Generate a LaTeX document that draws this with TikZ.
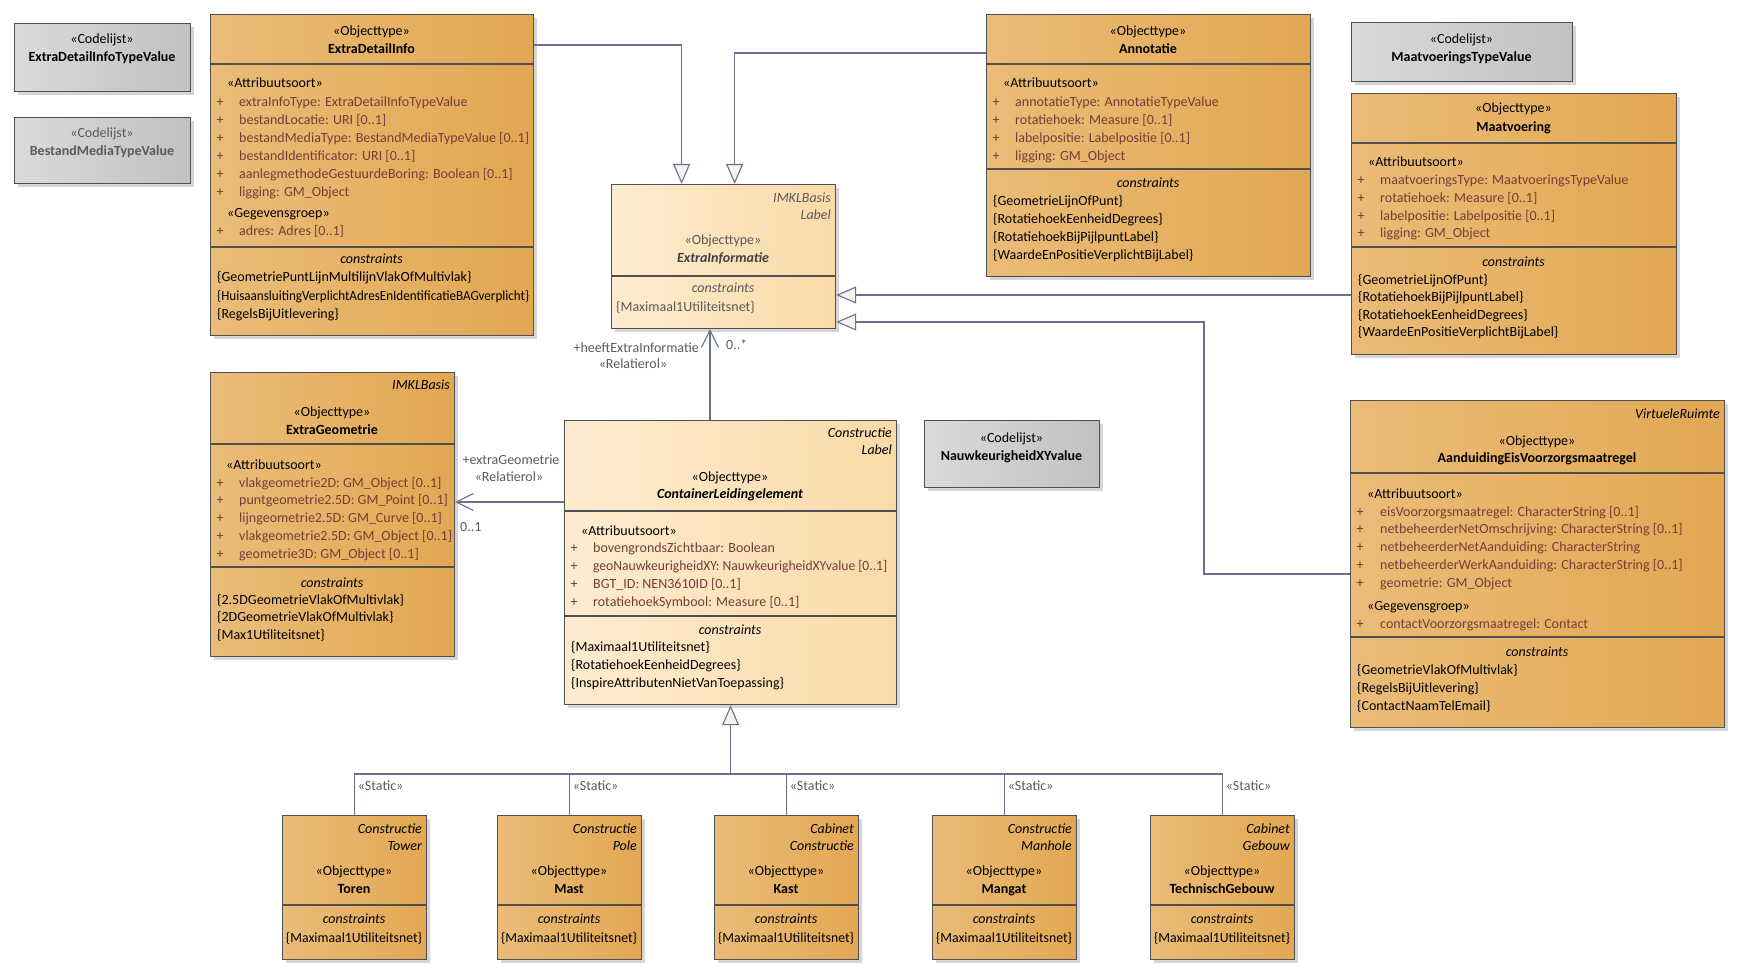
\documentclass[tikz,border=0pt]{standalone}
\usepackage{fontspec}
\setmainfont{Carlito}
\usepackage{tikz}
\usetikzlibrary{arrows.meta, positioning, calc, shadows}
\definecolor{orangeL}  {RGB}{234, 188, 120}
\definecolor{orangeR}  {RGB}{226, 167,  82}
\definecolor{lightL}   {RGB}{253, 236, 208}
\definecolor{lightR}   {RGB}{251, 218, 168}
\definecolor{grayL}    {RGB}{218, 218, 218}
\definecolor{grayR}    {RGB}{193, 193, 193}
\definecolor{edgegray} {RGB}{ 80,  80,  80}
\definecolor{linkblue} {RGB}{104, 114, 144}
\definecolor{genfill}  {RGB}{250, 240, 238}
\definecolor{attrbrown}{RGB}{115,  62,  56}
\definecolor{plusbrown}{RGB}{ 90,  66,  58}
\definecolor{labelgray}{RGB}{ 90,  90,  90}
\newcommand{\fs}{\fontsize{14}{16}\selectfont}

\begin{document}
\begin{tikzpicture}[x=1pt, y=-1pt, font=\fs,
	cls/.style={draw=edgegray, line width=1.2pt, anchor=north west, inner sep=0pt,
		drop shadow={shadow xshift=3pt, shadow yshift=-3pt, fill=black!16, opacity=1}},
	orangebox/.style={cls, left color=orangeL, right color=orangeR},
	lightbox/.style={cls, left color=lightL, right color=lightR},
	graybox/.style={cls, left color=grayL, right color=grayR},
	divider/.style={draw=edgegray, line width=1.2pt},
	txt/.style={anchor=base, inner sep=0pt},
	clsname/.style={txt, font=\fs\bfseries},
	ital/.style={txt, font=\fs\itshape},
	tag/.style={anchor=base east, inner sep=0pt, font=\fs\itshape},
	stereo/.style={anchor=base west, inner sep=0pt},
	cons/.style={anchor=base west, inner sep=0pt},
	attr/.style={anchor=base west, inner sep=0pt, text=attrbrown},
	plus/.style={txt, text=plusbrown},
	link/.style={draw=linkblue, line width=1.1pt},
	gen/.style={link, -{Triangle[length=20pt, width=17pt, fill=genfill]}},
	assoc/.style={link, -{Straight Barb[length=17pt, width=17pt, line width=1.1pt]}},
	linklabel/.style={txt, text=labelgray}]
\useasboundingbox (0,0) rectangle (1742,976);

% codelijsten
\node[graybox, minimum width=176pt, minimum height=68pt] (codeExtra) at (14,23) {};
\node[txt] at (102,44) {«Codelijst»};
\node[clsname] at (102,62) {ExtraDetailInfoTypeValue};
\node[graybox, minimum width=176pt, minimum height=66pt] (codeBestand) at (14,117) {};
\node[txt, text=labelgray] at (102,138) {«Codelijst»};
\node[clsname, text=labelgray] at (102,156) {BestandMediaTypeValue};
\node[graybox, minimum width=221pt, minimum height=59pt] (codeMaat) at (1351,22) {};
\node[txt] at (1461.5,44) {«Codelijst»};
\node[clsname] at (1461.5,62) {MaatvoeringsTypeValue};
\node[graybox, minimum width=175pt, minimum height=67pt] (codeNauwk) at (924,420) {};
\node[txt] at (1011.5,442) {«Codelijst»};
\node[clsname] at (1011.5,460) {NauwkeurigheidXYvalue};

% ExtraDetailInfo
\node[orangebox, minimum width=323pt, minimum height=321pt] (extradetail) at (210,14) {};
\node[txt] at (371.5,36) {«Objecttype»};
\node[clsname] at (371.5,54) {ExtraDetailInfo};
\draw[divider] (210,64) -- (533,64);
\node[stereo] at (227,88) {«Attribuutsoort»};
\foreach \entry [count=\i from 0] in {{extraInfoType: ExtraDetailInfoTypeValue},
		{bestandLocatie: URI [0..1]}, {bestandMediaType: BestandMediaTypeValue [0..1]},
		{bestandIdentificator: URI [0..1]}, {aanlegmethodeGestuurdeBoring: Boolean [0..1]},
		{ligging: GM\_Object}} {
	\node[plus] at (220,{107+\i*17.9}) {+};
	\node[attr] at (239,{107+\i*17.9}) {\entry};
}
\node[stereo] at (227,218) {«Gegevensgroep»};
\node[plus] at (220,236) {+};
\node[attr] at (239,236) {adres: Adres [0..1]};
\draw[divider] (210,247) -- (533,247);
\node[ital] at (371.5,264) {constraints};
\node[cons] at (217,282) {\{GeometriePuntLijnMultilijnVlakOfMultivlak\}};
\node[cons] at (217,300) {\resizebox{312pt}{\height}{\{HuisaansluitingVerplichtAdresEnIdentificatieBAGverplicht\}}};
\node[cons] at (217,318) {\{RegelsBijUitlevering\}};

% ExtraInformatie
\node[lightbox, minimum width=224pt, minimum height=144pt] (extrainfo) at (611,184) {};
\node[tag, text=labelgray] at (831,203) {IMKLBasis};
\node[tag, text=labelgray] at (831,220) {Label};
\node[txt, text=labelgray] at (723,245) {«Objecttype»};
\node[clsname, font=\fs\bfseries\itshape, text=black!75] at (723,263) {ExtraInformatie};
\draw[divider] (611,276) -- (835,276);
\node[ital, text=labelgray] at (723,293) {constraints};
\node[cons, text=labelgray] at (616,311) {\{Maximaal1Utiliteitsnet\}};

% Annotatie
\node[orangebox, minimum width=324pt, minimum height=262pt] (annotatie) at (986,14) {};
\node[txt] at (1148,36) {«Objecttype»};
\node[clsname] at (1148,54) {Annotatie};
\draw[divider] (986,64) -- (1310,64);
\node[stereo] at (1003,88) {«Attribuutsoort»};
\foreach \entry [count=\i from 0] in {{annotatieType: AnnotatieTypeValue},
		{rotatiehoek: Measure [0..1]}, {labelpositie: Labelpositie [0..1]}, {ligging: GM\_Object}} {
	\node[plus] at (996,{107+\i*17.9}) {+};
	\node[attr] at (1015,{107+\i*17.9}) {\entry};
}
\draw[divider] (986,169) -- (1310,169);
\node[ital] at (1148,188) {constraints};
\foreach \entry [count=\i from 0] in {{GeometrieLijnOfPunt}, {RotatiehoekEenheidDegrees},
		{RotatiehoekBijPijlpuntLabel}, {WaardeEnPositieVerplichtBijLabel}}
	\node[cons] at (993,{206+\i*17.9}) {\{\entry\}};

% Maatvoering
\node[orangebox, minimum width=325pt, minimum height=261pt] (maatvoering) at (1351,93) {};
\node[txt] at (1513.5,113) {«Objecttype»};
\node[clsname] at (1513.5,132) {Maatvoering};
\draw[divider] (1351,143) -- (1676,143);
\node[stereo] at (1368,167) {«Attribuutsoort»};
\foreach \entry [count=\i from 0] in {{maatvoeringsType: MaatvoeringsTypeValue},
		{rotatiehoek: Measure [0..1]}, {labelpositie: Labelpositie [0..1]}, {ligging: GM\_Object}} {
	\node[plus] at (1361,{185+\i*17.6}) {+};
	\node[attr] at (1380,{185+\i*17.6}) {\entry};
}
\draw[divider] (1351,247) -- (1676,247);
\node[ital] at (1513.5,267) {constraints};
\foreach \entry [count=\i from 0] in {{GeometrieLijnOfPunt}, {RotatiehoekBijPijlpuntLabel},
		{RotatiehoekEenheidDegrees}, {WaardeEnPositieVerplichtBijLabel}}
	\node[cons] at (1358,{284+\i*17.6}) {\{\entry\}};

% ExtraGeometrie
\node[orangebox, minimum width=244pt, minimum height=284pt] (extrageom) at (210,372) {};
\node[tag] at (450,389) {IMKLBasis};
\node[txt] at (332,416) {«Objecttype»};
\node[clsname] at (332,434) {ExtraGeometrie};
\draw[divider] (210,444) -- (454,444);
\node[stereo] at (226,469) {«Attribuutsoort»};
\foreach \entry [count=\i from 0] in {{vlakgeometrie2D: GM\_Object [0..1]},
		{puntgeometrie2.5D: GM\_Point [0..1]}, {lijngeometrie2.5D: GM\_Curve [0..1]},
		{vlakgeometrie2.5D: GM\_Object [0..1]}, {geometrie3D: GM\_Object [0..1]}} {
	\node[plus] at (220,{487+\i*17.8}) {+};
	\node[attr] at (239,{487+\i*17.8}) {\entry};
}
\draw[divider] (210,567) -- (454,567);
\node[ital] at (332,587) {constraints};
\foreach \entry [count=\i from 0] in {{2.5DGeometrieVlakOfMultivlak},
		{2DGeometrieVlakOfMultivlak}, {Max1Utiliteitsnet}}
	\node[cons] at (217,{604+\i*17.9}) {\{\entry\}};

% ContainerLeidingelement
\node[lightbox, minimum width=332pt, minimum height=284pt] (container) at (564,420) {};
\node[tag] at (892,437) {Constructie};
\node[tag] at (892,454) {Label};
\node[txt] at (730,481) {«Objecttype»};
\node[clsname, font=\fs\bfseries\itshape] at (730,498) {ContainerLeidingelement};
\draw[divider] (564,511) -- (896,511);
\node[stereo] at (581,535) {«Attribuutsoort»};
\foreach \entry [count=\i from 0] in {{bovengrondsZichtbaar: Boolean},
		{\resizebox{294pt}{\height}{geoNauwkeurigheidXY: NauwkeurigheidXYvalue [0..1]}},
		{BGT\_ID: NEN3610ID [0..1]}, {rotatiehoekSymbool: Measure [0..1]}} {
	\node[plus] at (574,{552+\i*18}) {+};
	\node[attr] at (593,{552+\i*18}) {\entry};
}
\draw[divider] (564,616) -- (896,616);
\node[ital] at (730,634) {constraints};
\foreach \entry [count=\i from 0] in {{Maximaal1Utiliteitsnet}, {RotatiehoekEenheidDegrees},
		{InspireAttributenNietVanToepassing}}
	\node[cons] at (571,{651+\i*18}) {\{\entry\}};

% AanduidingEisVoorzorgsmaatregel
\node[orangebox, minimum width=374pt, minimum height=327pt] (aanduiding) at (1350,400) {};
\node[tag] at (1720,418) {VirtueleRuimte};
\node[txt] at (1537,445) {«Objecttype»};
\node[clsname] at (1537,462) {AanduidingEisVoorzorgsmaatregel};
\draw[divider] (1350,473) -- (1724,473);
\node[stereo] at (1367,498) {«Attribuutsoort»};
\foreach \entry [count=\i from 0] in {{eisVoorzorgsmaatregel: CharacterString [0..1]},
		{netbeheerderNetOmschrijving: CharacterString [0..1]},
		{netbeheerderNetAanduiding: CharacterString},
		{netbeheerderWerkAanduiding: CharacterString [0..1]}, {geometrie: GM\_Object}} {
	\node[plus] at (1360,{516+\i*17.9}) {+};
	\node[attr] at (1380,{516+\i*17.9}) {\entry};
}
\node[stereo] at (1367,610) {«Gegevensgroep»};
\node[plus] at (1360,628) {+};
\node[attr] at (1380,628) {contactVoorzorgsmaatregel: Contact};
\draw[divider] (1350,637) -- (1724,637);
\node[ital] at (1537,656) {constraints};
\foreach \entry [count=\i from 0] in {{GeometrieVlakOfMultivlak}, {RegelsBijUitlevering},
		{ContactNaamTelEmail}}
	\node[cons] at (1357,{674+\i*18}) {\{\entry\}};

% subtypes
\foreach \nm/\x/\tagA/\tagB/\title in {toren/282/Constructie/Tower/Toren,
		mast/497/Constructie/Pole/Mast, kast/714/Cabinet/Constructie/Kast,
		mangat/932/Constructie/Manhole/Mangat, techgeb/1150/Cabinet/Gebouw/TechnischGebouw} {
	\node[orangebox, minimum width=144pt, minimum height=144pt] (\nm) at (\x,815) {};
	\node[tag] at (\x+140,833) {\tagA};
	\node[tag] at (\x+140,850) {\tagB};
	\node[txt] at (\x+72,875) {«Objecttype»};
	\node[clsname] at (\x+72,893) {\title};
	\draw[divider] (\x,905) -- (\x+144,905);
	\node[ital] at (\x+72,923) {constraints};
	\node[txt] at (\x+72,942) {\resizebox{136pt}{\height}{\{Maximaal1Utiliteitsnet\}}};
}

% generalisaties
\draw[gen] ([yshift=-31pt]extradetail.north east) -| ([xshift=-42pt]extrainfo.north);
\draw[gen] ([yshift=-39pt]annotatie.north west) -| ([xshift=11pt]extrainfo.north);
\draw[gen] (maatvoering.west |- 0,295) -- (extrainfo.east |- 0,295);
\coordinate (bend) at (1204,322);
\draw[gen] (aanduiding.west |- 0,574) -| (bend) -- (extrainfo.east |- bend);
\coordinate (bus) at (container.south |- 0,774);
\draw[gen] (bus) -- (container.south);
\foreach \nm in {toren, mast, kast, mangat, techgeb} {
	\draw[link] (\nm.north) |- (bus);
	\node[linklabel, anchor=base west] at ([xshift=3pt]\nm.north |- 0,790) {«Static»};
}

% associaties
\draw[assoc] (container.north -| 710,0) -- (extrainfo.south -| 710,0);
\node[linklabel, anchor=base east] at (699,352) {+heeftExtraInformatie};
\node[linklabel] at (633,368) {«Relatierol»};
\node[linklabel, anchor=base west] at (726,349) {0..*};
\draw[assoc] (container.west |- 0,502) -- (extrageom.east |- 0,502);
\node[linklabel] at (511,464) {+extraGeometrie};
\node[linklabel] at (509,481) {«Relatierol»};
\node[linklabel, anchor=base west] at (460,531) {0..1};
\end{tikzpicture}
\end{document}
